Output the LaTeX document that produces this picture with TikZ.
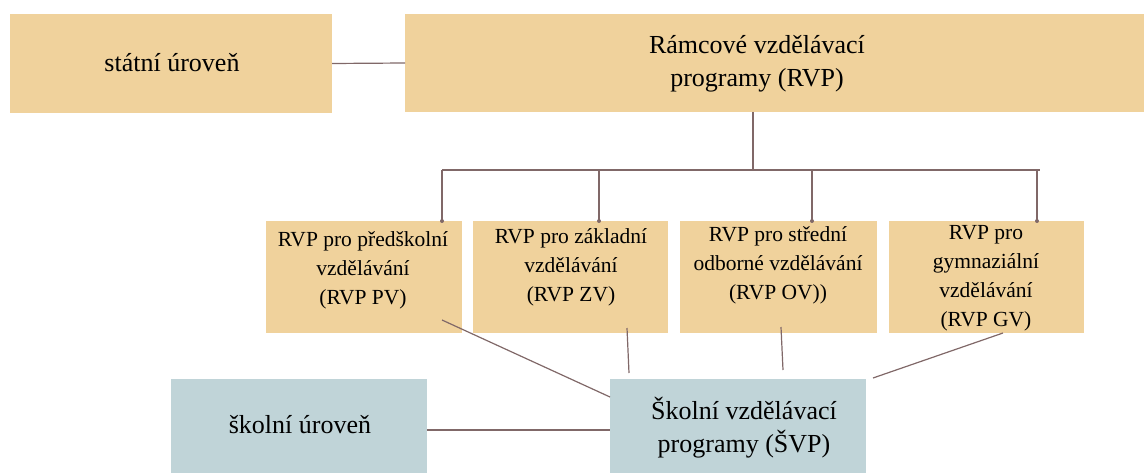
\documentclass[tikz,border=0pt]{standalone}
\usepackage{fontspec}
\setmainfont{Liberation Serif}
\definecolor{tan}{RGB}{240,210,156}
\definecolor{slate}{RGB}{192,212,216}
\definecolor{conn}{RGB}{128,104,104}
\tikzset{
  box/.style={draw=none, inner sep=0pt, outer sep=0pt, anchor=north west},
  tanbox/.style={box, fill=tan},
  bluebox/.style={box, fill=slate},
  big/.style={font=\fontsize{26}{33}\selectfont, align=center, inner sep=0pt},
  small/.style={font=\fontsize{21.5}{29}\selectfont, align=center, inner sep=0pt},
  link/.style={draw=conn, line width=1.2pt},
  dot/.style={circle, fill=conn, inner sep=0pt, minimum size=4pt}
}
\begin{document}
\begin{tikzpicture}[x=1pt,y=-1pt]
\useasboundingbox (0,0) rectangle (1144,473);
% boxes
\node[tanbox, minimum width=322, minimum height=99] (statni) at (10,14) {};
\node[tanbox, minimum width=739, minimum height=98] (ramcove) at (405,14) {};
\node[tanbox, minimum width=196, minimum height=112] (b1) at (266,221) {};
\node[tanbox, minimum width=195, minimum height=112] (b2) at (473,221) {};
\node[tanbox, minimum width=197, minimum height=112] (b3) at (680,221) {};
\node[tanbox, minimum width=195, minimum height=112] (b4) at (889,221) {};
\node[bluebox, minimum width=256, minimum height=94] (skolni) at (171,379) {};
\node[bluebox, minimum width=256, minimum height=94] (svp) at (610,379) {};
% texts
\node[big] (tstatni) at (172,63) {státní úroveň};
\node[big] (tramcove) at (757,64) {Rámcové vzdělávací\\programy (RVP)};
\node[small] (t1) at (363,270) {RVP pro předškolní\\vzdělávání\\(RVP PV)};
\node[small] (t2) at (571,267) {RVP pro základní\\vzdělávání\\(RVP ZV)};
\node[small] (t3) at (778,265) {RVP pro střední\\odborné vzdělávání\\(RVP OV))};
\node[small] (t4) at (986,278) {RVP pro\\gymnaziální\\vzdělávání\\(RVP GV)};
\node[big] (tskolni) at (300,425) {školní úroveň};
\node[big] (tsvp) at (744,428) {Školní vzdělávací\\programy (ŠVP)};
% tree
\coordinate (top) at (753,170);
\coordinate (p1) at (442,170);
\coordinate (p2) at (599,170);
\coordinate (p3) at (812,170);
\coordinate (p4) at (1037,170);
\coordinate (hr) at (1040,170);
\draw[link] (statni.east) -- (ramcove.west);
\draw[link] (top |- ramcove.south) -- (top);
\draw[link] (p1) -- (hr);
\foreach \i in {1,2,3,4} {
  \draw[link] (p\i) -- (p\i |- b\i.north);
  \node[dot] (dt\i) at (p\i |- b\i.north) {};
}
% lines to SVP
\coordinate (a1) at (442,320);
\coordinate (e1) at (610,397);
\coordinate (a2) at (627,328);
\coordinate (e2) at (629,373);
\coordinate (a3) at (781,327);
\coordinate (e3) at (783,370);
\coordinate (a4) at (1003,333);
\coordinate (e4) at (873,378);
\draw[link] (a1) -- (e1);
\draw[link] (a2) -- (e2);
\draw[link] (a3) -- (e3);
\draw[link] (a4) -- (e4);
\draw[link] (skolni.east) ++(0,4) coordinate (s0) -- (s0 -| svp.west);
\end{tikzpicture}
\end{document}
